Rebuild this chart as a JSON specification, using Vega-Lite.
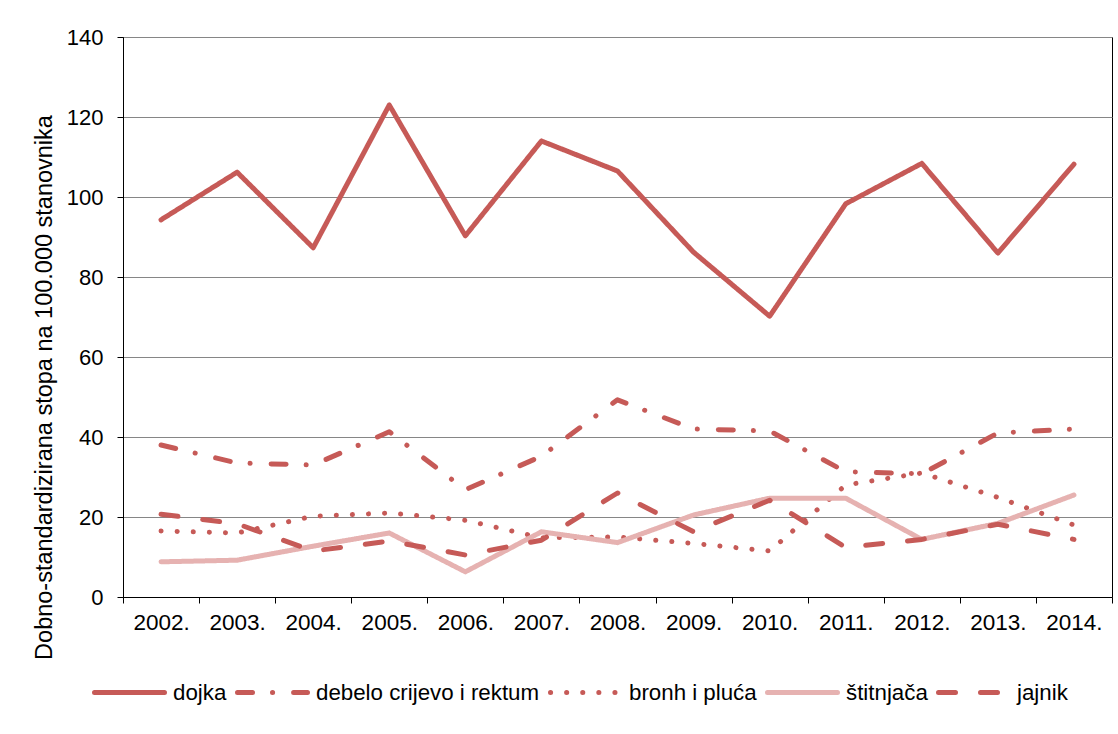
{
  "$schema": "https://vega.github.io/schema/vega-lite/v6.json",
  "width": 989,
  "height": 560,
  "autosize": {"type": "none"},
  "padding": {"left": 123, "top": 37, "right": 6, "bottom": 137},
  "background": "white",
  "config": {
    "font": "Liberation Sans",
    "view": {"stroke": "#000000", "strokeWidth": 1},
    "axis": {"labelFont": "Liberation Sans", "titleFont": "Liberation Sans", "labelColor": "#000", "titleColor": "#000", "domainColor": "#000", "tickColor": "#000", "tickSize": 6}
  },
  "data": {
    "values": [
      {"year": "2002.", "series": "dojka", "value": 94.3},
      {"year": "2003.", "series": "dojka", "value": 106.2},
      {"year": "2004.", "series": "dojka", "value": 87.3},
      {"year": "2005.", "series": "dojka", "value": 123.0},
      {"year": "2006.", "series": "dojka", "value": 90.3},
      {"year": "2007.", "series": "dojka", "value": 114.0},
      {"year": "2008.", "series": "dojka", "value": 106.5},
      {"year": "2009.", "series": "dojka", "value": 86.2},
      {"year": "2010.", "series": "dojka", "value": 70.2},
      {"year": "2011.", "series": "dojka", "value": 98.3},
      {"year": "2012.", "series": "dojka", "value": 108.4},
      {"year": "2013.", "series": "dojka", "value": 86.0},
      {"year": "2014.", "series": "dojka", "value": 108.2},
      {"year": "2002.", "series": "debelo crijevo i rektum", "value": 38.0},
      {"year": "2003.", "series": "debelo crijevo i rektum", "value": 33.5},
      {"year": "2004.", "series": "debelo crijevo i rektum", "value": 33.0},
      {"year": "2005.", "series": "debelo crijevo i rektum", "value": 41.3},
      {"year": "2006.", "series": "debelo crijevo i rektum", "value": 26.8},
      {"year": "2007.", "series": "debelo crijevo i rektum", "value": 35.2},
      {"year": "2008.", "series": "debelo crijevo i rektum", "value": 49.3},
      {"year": "2009.", "series": "debelo crijevo i rektum", "value": 42.0},
      {"year": "2010.", "series": "debelo crijevo i rektum", "value": 41.5},
      {"year": "2011.", "series": "debelo crijevo i rektum", "value": 31.3},
      {"year": "2012.", "series": "debelo crijevo i rektum", "value": 30.8},
      {"year": "2013.", "series": "debelo crijevo i rektum", "value": 41.0},
      {"year": "2014.", "series": "debelo crijevo i rektum", "value": 42.0},
      {"year": "2002.", "series": "bronh i pluća", "value": 16.5},
      {"year": "2003.", "series": "bronh i pluća", "value": 16.0},
      {"year": "2004.", "series": "bronh i pluća", "value": 20.2},
      {"year": "2005.", "series": "bronh i pluća", "value": 21.0},
      {"year": "2006.", "series": "bronh i pluća", "value": 19.2},
      {"year": "2007.", "series": "bronh i pluća", "value": 14.8},
      {"year": "2008.", "series": "bronh i pluća", "value": 15.0},
      {"year": "2009.", "series": "bronh i pluća", "value": 13.4},
      {"year": "2010.", "series": "bronh i pluća", "value": 11.5},
      {"year": "2011.", "series": "bronh i pluća", "value": 28.0},
      {"year": "2012.", "series": "bronh i pluća", "value": 31.0},
      {"year": "2013.", "series": "bronh i pluća", "value": 24.9},
      {"year": "2014.", "series": "bronh i pluća", "value": 18.0},
      {"year": "2002.", "series": "štitnjača", "value": 8.8},
      {"year": "2003.", "series": "štitnjača", "value": 9.2},
      {"year": "2004.", "series": "štitnjača", "value": 12.7},
      {"year": "2005.", "series": "štitnjača", "value": 16.0},
      {"year": "2006.", "series": "štitnjača", "value": 6.3},
      {"year": "2007.", "series": "štitnjača", "value": 16.3},
      {"year": "2008.", "series": "štitnjača", "value": 13.6},
      {"year": "2009.", "series": "štitnjača", "value": 20.5},
      {"year": "2010.", "series": "štitnjača", "value": 24.7},
      {"year": "2011.", "series": "štitnjača", "value": 24.7},
      {"year": "2012.", "series": "štitnjača", "value": 14.4},
      {"year": "2013.", "series": "štitnjača", "value": 18.4},
      {"year": "2014.", "series": "štitnjača", "value": 25.5},
      {"year": "2002.", "series": "jajnik", "value": 20.7},
      {"year": "2003.", "series": "jajnik", "value": 18.3},
      {"year": "2004.", "series": "jajnik", "value": 11.5},
      {"year": "2005.", "series": "jajnik", "value": 14.0},
      {"year": "2006.", "series": "jajnik", "value": 10.5},
      {"year": "2007.", "series": "jajnik", "value": 14.2},
      {"year": "2008.", "series": "jajnik", "value": 26.0},
      {"year": "2009.", "series": "jajnik", "value": 16.3},
      {"year": "2010.", "series": "jajnik", "value": 24.2},
      {"year": "2011.", "series": "jajnik", "value": 12.4},
      {"year": "2012.", "series": "jajnik", "value": 14.4},
      {"year": "2013.", "series": "jajnik", "value": 18.2},
      {"year": "2014.", "series": "jajnik", "value": 14.4}
    ]
  },
  "mark": {"type": "line", "strokeCap": "round", "strokeJoin": "round"},
  "encoding": {
    "x": {
      "field": "year",
      "type": "ordinal",
      "sort": null,
      "scale": {"type": "band", "paddingInner": 0, "paddingOuter": 0},
      "axis": {"title": null, "labelAngle": 0, "labelFontSize": 22.5, "labelPadding": 8, "tickBand": "extent", "grid": false}
    },
    "y": {
      "field": "value",
      "type": "quantitative",
      "scale": {"domain": [0, 140], "nice": false},
      "axis": {
        "values": [0, 20, 40, 60, 80, 100, 120, 140],
        "grid": true,
        "gridColor": "#868686",
        "gridWidth": 1,
        "labelFontSize": 22,
        "labelPadding": 14,
        "title": "Dobno-standardizirana stopa na 100.000 stanovnika",
        "titleFontSize": 23.5,
        "titleFontWeight": "normal",
        "titlePadding": 10,
        "titleY": 350
      }
    },
    "color": {
      "field": "series",
      "type": "nominal",
      "scale": {
        "domain": ["dojka", "debelo crijevo i rektum", "bronh i pluća", "štitnjača", "jajnik"],
        "range": ["#C65A57", "#C65A57", "#C65A57", "#E6B2B1", "#C65A57"]
      },
      "legend": {
        "title": null,
        "orient": "none",
        "legendX": -31,
        "legendY": 618,
        "direction": "horizontal",
        "symbolType": "stroke",
        "symbolSize": 4900,
        "symbolStrokeWidth": 5,
        "labelFontSize": 22.3,
        "labelFont": "Liberation Sans",
        "labelColor": "#000",
        "labelLimit": 0,
        "labelOffset": 6,
        "columnPadding": 0,
        "encode": {"symbols": {"update": {"strokeCap": {"value": "round"}}}}
      }
    },
    "strokeDash": {
      "field": "series",
      "type": "nominal",
      "scale": {
        "domain": ["dojka", "debelo crijevo i rektum", "bronh i pluća", "štitnjača", "jajnik"],
        "range": [[1, 0], [15, 20, 0.1, 21], [0.1, 16], [1, 0], [17, 25]]
      },
      "legend": null
    },
    "strokeWidth": {
      "field": "series",
      "type": "nominal",
      "scale": {
        "domain": ["dojka", "debelo crijevo i rektum", "bronh i pluća", "štitnjača", "jajnik"],
        "range": [5, 5, 6.5, 5, 5]
      },
      "legend": null
    }
  }
}
